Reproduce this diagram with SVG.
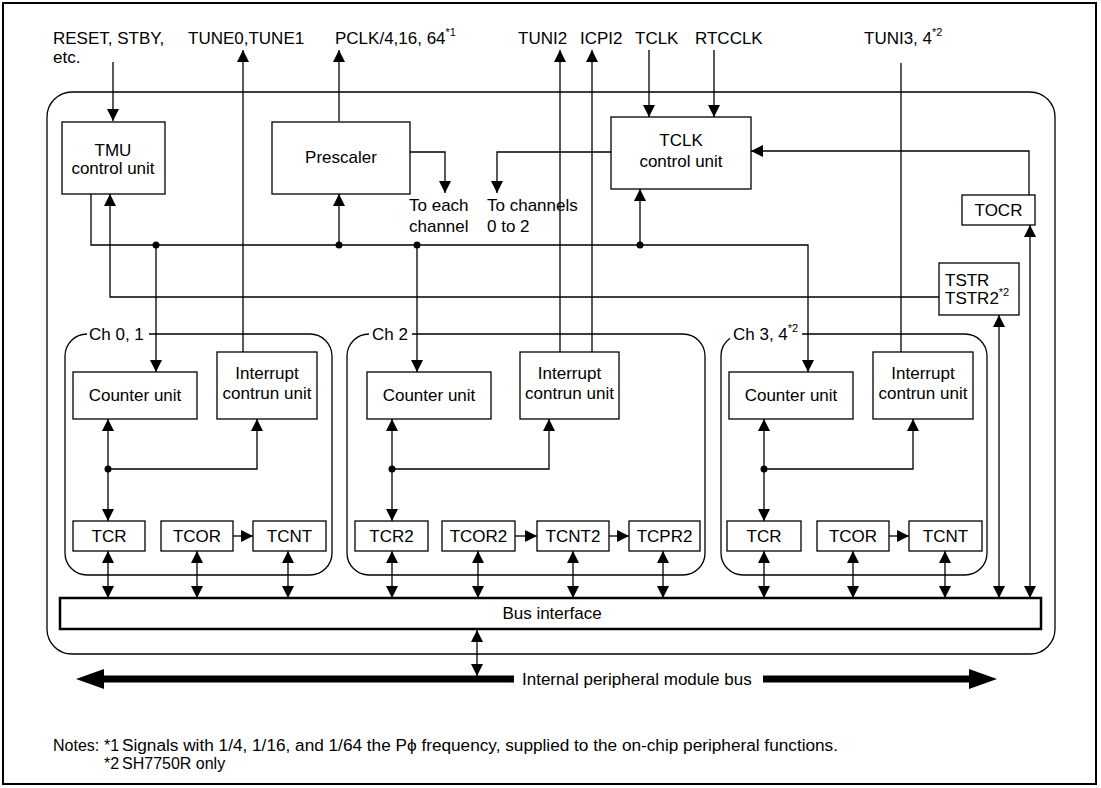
<svg xmlns="http://www.w3.org/2000/svg" width="1101" height="788" viewBox="0 0 1101 788">
<defs>
<marker id="ah" viewBox="0 0 12 12" refX="12" refY="6" markerWidth="12" markerHeight="12" markerUnits="userSpaceOnUse" orient="auto-start-reverse"><path d="M0,0 L12,6 L0,12 z" fill="#000"/></marker>
</defs>
<style>
text{font-family:"Liberation Sans",Arial,sans-serif;font-size:17px;fill:#000}
.c{text-anchor:middle}
.box{fill:#fff;stroke:#000;stroke-width:1.3}
.ln{fill:none;stroke:#000;stroke-width:1.3}
.a{marker-end:url(#ah)}
.d{marker-start:url(#ah);marker-end:url(#ah)}
.dot{fill:#000}
.note{font-size:16px}
</style>
<rect x="0" y="0" width="1101" height="788" fill="#fff"/>
<rect x="3" y="3" width="1093" height="781" fill="#fff" stroke="#000" stroke-width="2"/>
<g id="tmu-module">
<rect x="47" y="92" width="1008" height="562" rx="25" ry="25" class="ln"/>
</g>
<g id="top-labels">
<text x="53" y="44">RESET, STBY,</text>
<text x="53" y="63">etc.</text>
<text x="188" y="44">TUNE0,TUNE1</text>
<text x="335" y="44">PCLK/4,16, 64<tspan dy="-8" font-size="11">*1</tspan></text>
<text x="518" y="44">TUNI2</text>
<text x="580" y="44">ICPI2</text>
<text x="635" y="44">TCLK</text>
<text x="695" y="44">RTCCLK</text>
<text x="864" y="44">TUNI3, 4<tspan dy="-8" font-size="11">*2</tspan></text>
<text x="409" y="211">To each</text>
<text x="409" y="232">channel</text>
<text x="487" y="211">To channels</text>
<text x="487" y="232">0 to 2</text>
</g>
<g id="connectors">
<path class="ln a" d="M113,62 V121"/>
<path class="ln a" d="M243,352 V50"/>
<path class="ln a" d="M339,121 V50"/>
<path class="ln a" d="M560,352 V50"/>
<path class="ln a" d="M592,352 V50"/>
<path class="ln a" d="M649,50 V117"/>
<path class="ln a" d="M714,50 V117"/>
<path class="ln" d="M901,352 V63"/>
<path class="ln a" d="M91,194 V245 H808 V372"/>
<path class="ln a" d="M156,245 V372"/>
<path class="ln a" d="M339,245 V194"/>
<path class="ln a" d="M417,245 V372"/>
<path class="ln a" d="M640,245 V189"/>
<path class="ln a" d="M939,297 H110 V194"/>
<path class="ln a" d="M1029,195 V151 H751"/>
<path class="ln a" d="M611,152 H497 V193"/>
<path class="ln a" d="M410,152 H445 V193"/>
<path class="ln d" d="M999,315 V598"/>
<path class="ln d" d="M1030,225 V598"/>
<path class="ln a" d="M108,469 V419"/>
<path class="ln a" d="M108,469 V521"/>
<path class="ln a" d="M108,469 H257 V419"/>
<path class="ln a" d="M233,536 H253"/>
<path class="ln d" d="M108,551 V598"/>
<path class="ln d" d="M197,551 V598"/>
<path class="ln d" d="M288,551 V598"/>
<path class="ln a" d="M392,469 V419"/>
<path class="ln a" d="M392,469 V521"/>
<path class="ln a" d="M392,469 H549 V419"/>
<path class="ln a" d="M515,536 H537"/>
<path class="ln a" d="M609,536 H629"/>
<path class="ln d" d="M392,551 V598"/>
<path class="ln d" d="M478,551 V598"/>
<path class="ln d" d="M573,551 V598"/>
<path class="ln d" d="M663,551 V598"/>
<path class="ln a" d="M764,469 V419"/>
<path class="ln a" d="M764,469 V521"/>
<path class="ln a" d="M764,469 H913 V419"/>
<path class="ln a" d="M889,536 H909"/>
<path class="ln d" d="M764,551 V598"/>
<path class="ln d" d="M853,551 V598"/>
<path class="ln d" d="M945,551 V598"/>
<path class="ln d" d="M477,630 V676"/>
<circle class="dot" cx="156" cy="245" r="3.5"/>
<circle class="dot" cx="339" cy="245" r="3.5"/>
<circle class="dot" cx="417" cy="245" r="3.5"/>
<circle class="dot" cx="640" cy="245" r="3.5"/>
<circle class="dot" cx="108" cy="469" r="3.5"/>
<circle class="dot" cx="392" cy="469" r="3.5"/>
<circle class="dot" cx="764" cy="469" r="3.5"/>
</g>
<g id="tmu-control">
<rect class="box" x="62" y="122" width="103" height="72"/>
<text class="c" x="113" y="156">TMU</text>
<text class="c" x="113" y="174">control unit</text>
</g>
<g id="prescaler">
<rect class="box" x="272" y="122" width="138" height="72"/>
<text class="c" x="341" y="163">Prescaler</text>
</g>
<g id="tclk-control">
<rect class="box" x="611" y="117" width="140" height="72"/>
<text class="c" x="681" y="146">TCLK</text>
<text class="c" x="681" y="167">control unit</text>
</g>
<g id="tocr">
<rect class="box" x="962" y="195" width="73" height="30"/>
<text class="c" x="998.5" y="216">TOCR</text>
</g>
<g id="tstr">
<rect class="box" x="939" y="263" width="80" height="52"/>
<text x="945" y="286">TSTR</text>
<text x="945" y="304">TSTR2<tspan dy="-8" font-size="11">*2</tspan></text>
</g>
<g id="ch01">
<path class="ln" d="M149,334 H310 A22,22 0 0 1 332,356 V553 A22,22 0 0 1 310,575 H87 A22,22 0 0 1 65,553 V356 A22,22 0 0 1 87,334"/>
<text x="89" y="340">Ch 0, 1</text>
<rect class="box" x="73" y="372" width="124" height="47"/>
<text class="c" x="135" y="401">Counter unit</text>
<rect class="box" x="217" y="352" width="100" height="67"/>
<text class="c" x="267" y="379">Interrupt</text>
<text class="c" x="267" y="399">contrun unit</text>
<rect class="box" x="73" y="521" width="72" height="30"/>
<text class="c" x="109" y="542">TCR</text>
<rect class="box" x="161" y="521" width="72" height="30"/>
<text class="c" x="197" y="542">TCOR</text>
<rect class="box" x="253" y="521" width="73" height="30"/>
<text class="c" x="289.5" y="542">TCNT</text>
</g>
<g id="ch2">
<path class="ln" d="M412,334 H683 A22,22 0 0 1 705,356 V553 A22,22 0 0 1 683,575 H369 A22,22 0 0 1 347,553 V356 A22,22 0 0 1 369,334"/>
<text x="372" y="340">Ch 2</text>
<rect class="box" x="367" y="372" width="124" height="47"/>
<text class="c" x="429" y="401">Counter unit</text>
<rect class="box" x="520" y="352" width="99" height="67"/>
<text class="c" x="569.5" y="379">Interrupt</text>
<text class="c" x="569.5" y="399">contrun unit</text>
<rect class="box" x="355" y="521" width="73" height="30"/>
<text class="c" x="391.5" y="542">TCR2</text>
<rect class="box" x="442" y="521" width="73" height="30"/>
<text class="c" x="478.5" y="542">TCOR2</text>
<rect class="box" x="537" y="521" width="72" height="30"/>
<text class="c" x="573" y="542">TCNT2</text>
<rect class="box" x="629" y="521" width="71" height="30"/>
<text class="c" x="664.5" y="542">TCPR2</text>
</g>
<g id="ch34">
<path class="ln" d="M802,334 H965 A22,22 0 0 1 987,356 V553 A22,22 0 0 1 965,575 H743 A22,22 0 0 1 721,553 V356 A22,22 0 0 1 730,338.2"/>
<text x="733" y="340">Ch 3, 4<tspan dy="-8" font-size="11">*2</tspan></text>
<rect class="box" x="729" y="372" width="124" height="47"/>
<text class="c" x="791" y="401">Counter unit</text>
<rect class="box" x="873" y="352" width="100" height="67"/>
<text class="c" x="923" y="379">Interrupt</text>
<text class="c" x="923" y="399">contrun unit</text>
<rect class="box" x="727" y="521" width="74" height="30"/>
<text class="c" x="764" y="542">TCR</text>
<rect class="box" x="817" y="521" width="72" height="30"/>
<text class="c" x="853" y="542">TCOR</text>
<rect class="box" x="909" y="521" width="73" height="30"/>
<text class="c" x="945.5" y="542">TCNT</text>
</g>
<g id="bus-interface">
<rect x="60" y="598" width="981" height="31" fill="#fff" stroke="#000" stroke-width="2.5"/>
<text class="c" x="552" y="619">Bus interface</text>
</g>
<g id="internal-bus">
<polygon points="76,679 104,669 104,689" fill="#000"/>
<rect x="103" y="675.5" width="411" height="7" fill="#000"/>
<rect x="763" y="675.5" width="207" height="7" fill="#000"/>
<polygon points="969,669 997,679 969,689" fill="#000"/>
<text x="522" y="685">Internal peripheral module bus</text>
</g>
<g id="notes">
<text class="note" x="53" y="751">Notes:</text>
<text class="note" x="104" y="751">*1</text>
<text class="note" x="122" y="751" textLength="716" lengthAdjust="spacingAndGlyphs">Signals with 1/4, 1/16, and 1/64 the Pϕ frequency, supplied to the on-chip peripheral functions.</text>
<text class="note" x="104" y="769">*2</text>
<text class="note" x="122" y="769">SH7750R only</text>
</g>
</svg>
